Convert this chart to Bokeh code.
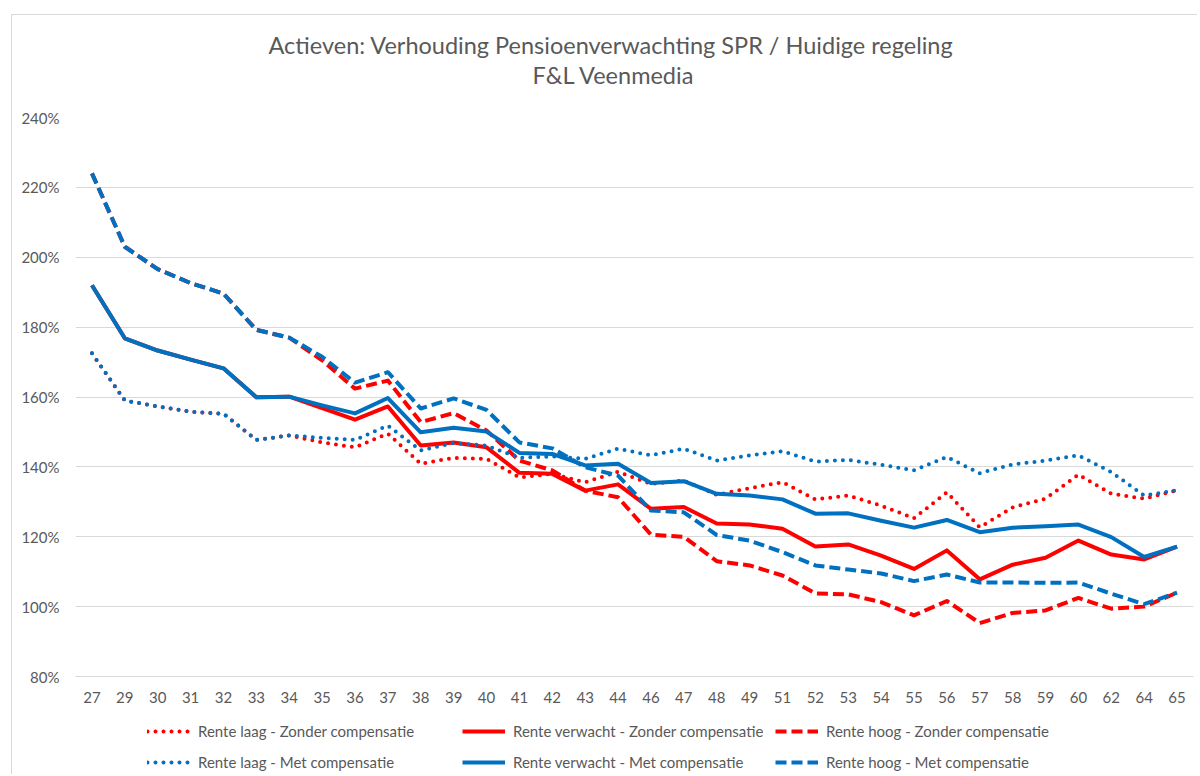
from bokeh.plotting import figure
from bokeh.layouts import column
from bokeh.models import FactorRange, Range1d, Legend, LegendItem, NumeralTickFormatter, Title, FixedTicker
from bokeh.embed import file_html
from bokeh.resources import INLINE

ages = ["27", "29", "30", "31", "32", "33", "34", "35", "36", "37", "38", "39", "40", "41", "42", "43", "44",
        "46", "47", "48", "49", "51", "52", "53", "54", "55", "56", "57", "58", "59", "60", "62", "64", "65"]

laag_zonder = [172.5, 159.0, 157.3, 155.8, 155.2, 147.7, 149.0, 147.0, 145.6, 149.5, 140.9, 142.6, 142.3, 137.0,
               138.0, 135.6, 138.6, 135.1, 136.1, 132.0, 133.9, 135.6, 130.7, 131.8, 128.9, 125.3, 132.7, 122.7,
               128.4, 130.9, 137.8, 132.3, 130.9, 133.3]
verwacht_zonder = [192.0, 176.8, 173.3, 170.7, 168.2, 159.9, 160.1, 156.8, 153.5, 157.3, 146.1, 147.0, 145.6, 138.3,
                   138.0, 133.2, 135.0, 128.0, 128.5, 123.8, 123.5, 122.3, 117.2, 117.8, 114.6, 110.8, 116.1, 107.8,
                   112.0, 114.0, 118.9, 114.9, 113.5, 117.2]
hoog_zonder = [224.0, 203.0, 196.6, 192.6, 189.6, 179.2, 177.0, 170.5, 162.4, 164.7, 152.8, 155.4, 150.4, 141.8,
               139.0, 133.2, 131.3, 120.6, 120.0, 113.0, 111.8, 108.9, 103.8, 103.5, 101.3, 97.5, 101.6, 95.3,
               98.2, 98.9, 102.5, 99.4, 100.0, 104.0]
laag_met = [172.5, 159.0, 157.3, 155.8, 155.2, 147.7, 149.0, 148.3, 147.7, 151.8, 144.7, 146.8, 146.1, 142.6,
            143.0, 142.3, 145.2, 143.3, 145.2, 141.8, 143.3, 144.5, 141.5, 142.0, 140.6, 139.0, 142.8, 138.2,
            140.7, 141.8, 143.3, 138.5, 131.8, 133.3]
verwacht_met = [192.0, 176.8, 173.3, 170.7, 168.2, 159.9, 160.1, 157.6, 155.3, 159.7, 149.9, 151.2, 150.1, 144.0,
                143.7, 140.4, 140.9, 135.4, 135.9, 132.3, 131.8, 130.7, 126.6, 126.7, 124.6, 122.6, 124.8, 121.3,
                122.6, 123.0, 123.5, 119.9, 114.2, 117.2]
hoog_met = [224.0, 203.0, 196.6, 192.6, 189.6, 179.2, 177.0, 171.5, 164.1, 167.1, 156.7, 159.6, 156.3, 147.0,
            145.3, 139.9, 137.5, 127.5, 127.0, 120.5, 118.9, 115.6, 111.8, 110.6, 109.5, 107.3, 109.2, 106.9,
            106.9, 106.8, 106.9, 103.7, 100.7, 104.0]

labels = ["Rente laag - Zonder compensatie", "Rente verwacht - Zonder compensatie", "Rente hoog - Zonder compensatie",
          "Rente laag - Met compensatie", "Rente verwacht - Met compensatie", "Rente hoog - Met compensatie"]
y_ticks = [0.8, 1.0, 1.2, 1.4, 1.6, 1.8, 2.0, 2.2, 2.4]
title_line1 = "Actieven: Verhouding Pensioenverwachting SPR / Huidige regeling"
title_line2 = "F&L Veenmedia"

RED = "#FF0000"
BLUE = "#0070C0"
TXT = "#595959"
FONT = "Lato"
BORDER = "1px solid #d9d9d9"

colors = [RED, RED, RED, BLUE, BLUE, BLUE]
dashes = ["0 8", "solid", "11 5", "0 8", "solid", "11 5"]


def style_kwargs(c, d):
    return dict(line_color=c, line_width=4, line_dash=d,
                line_cap="round" if d == "0 8" else "butt", line_join="round")


p = figure(x_range=FactorRange(*ages), y_range=Range1d(0.8, 2.4),
           width=1185, height=695, output_backend="svg", toolbar_location=None,
           min_border_left=63, min_border_right=4, min_border_top=102, min_border_bottom=34,
           title=title_line1)

p.title.text_font = FONT
p.title.text_font_size = "23.5px"
p.title.text_font_style = "normal"
p.title.text_color = TXT
p.title.align = "left"
p.title.offset = 193
p.title.standoff = 0
spacer = Title(text=" ", text_font=FONT, text_font_size="1px", standoff=26)
p.add_layout(spacer, "above")
t2 = Title(text=title_line2, text_font=FONT, text_font_size="23.5px", text_font_style="normal",
           text_color=TXT, align="left", offset=457, standoff=0)
p.add_layout(t2, "above")

p.outline_line_color = None
p.xgrid.visible = False
p.ygrid.grid_line_color = "#d9d9d9"
p.ygrid.grid_line_width = 1

p.yaxis.ticker = FixedTicker(ticks=y_ticks)
p.yaxis.formatter = NumeralTickFormatter(format="0%")
p.yaxis.axis_line_color = None
p.yaxis.major_tick_line_color = None
p.yaxis.minor_tick_line_color = None
p.yaxis.major_tick_out = 0
p.yaxis.minor_tick_out = 0
p.yaxis.major_label_standoff = 16
p.xaxis.axis_line_color = "#d9d9d9"
p.xaxis.major_tick_line_color = None
p.xaxis.major_tick_out = 0
p.xaxis.major_label_standoff = 15
for ax in [p.xaxis, p.yaxis]:
    ax.major_label_text_font = FONT
    ax.major_label_text_font_size = "15px"
    ax.major_label_text_color = TXT

series = [laag_zonder, verwacht_zonder, hoog_zonder, laag_met, verwacht_met, hoog_met]
for vals, c, d in zip(series, colors, dashes):
    ys = [v / 100.0 for v in vals]
    p.line(ages, ys, **style_kwargs(c, d))

# legend strip below the chart
p2 = figure(width=1185, height=64, output_backend="svg", toolbar_location=None,
            x_range=Range1d(0, 1), y_range=Range1d(0, 1),
            x_axis_location=None, y_axis_location=None,
            min_border_left=0, min_border_right=0, min_border_top=0, min_border_bottom=0)
p2.outline_line_color = None
p2.xgrid.visible = False
p2.ygrid.visible = False
leg_renderers = [p2.line([-3, -2], [-3, -2], **style_kwargs(c, d)) for c, d in zip(colors, dashes)]

col_x = [72, 387, 700]
for ci in range(3):
    leg = Legend(items=[LegendItem(label=labels[ci], renderers=[leg_renderers[ci]]),
                        LegendItem(label=labels[ci + 3], renderers=[leg_renderers[ci + 3]])],
                 location=(col_x[ci], 2), orientation="vertical",
                 border_line_color=None, background_fill_alpha=0, padding=0, margin=0, spacing=11,
                 glyph_width=43, glyph_height=20, label_height=20, label_standoff=8,
                 label_text_font=FONT, label_text_font_size="15px", label_text_color=TXT)
    p2.add_layout(leg)

layout = column(p, p2)
layout.styles = {"margin-left": "11px", "margin-top": "14px", "border-left": BORDER, "border-top": BORDER}

open("out.html", "w").write(file_html(layout, INLINE))
